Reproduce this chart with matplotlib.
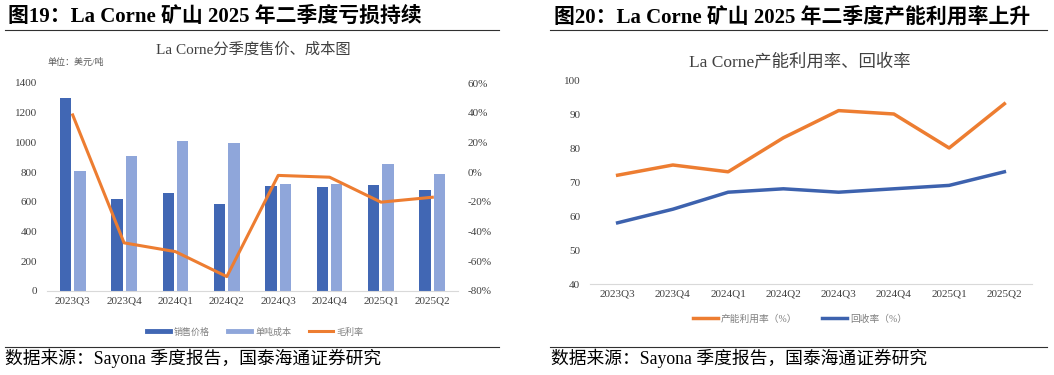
import numpy as np
import matplotlib
matplotlib.use('Agg')
import matplotlib.pyplot as plt
from matplotlib.lines import Line2D
from matplotlib.ticker import FuncFormatter

plt.rcParams['font.family'] = ['Liberation Serif', 'Noto Sans CJK SC', 'DejaVu Sans']

quarters = ['2023Q3', '2023Q4', '2024Q1', '2024Q2', '2024Q3', '2024Q4', '2025Q1', '2025Q2']

# left chart: price / cost (USD/t), gross margin
price = [1300, 620, 660, 585, 706, 700, 712, 677]
cost = [809, 908, 1009, 993, 719, 720, 858, 787]
margin = [0.385, -0.476, -0.535, -0.703, -0.022, -0.034, -0.202, -0.169]

# right chart: utilisation / recovery (%)
utilisation = [72, 75, 73, 83, 91, 90, 80, 93]
recovery = [58, 62, 67, 68, 67, 68, 69, 73]

DARK = '#4167B4'
LIGHT = '#8FA6DA'
ORANGE = '#ED7D31'
BLUE = '#3D62AE'
GRID = '#d9d9d9'
TXT = '#404040'
CJK = ['Liberation Serif', 'Noto Sans CJK SC']

W, H = 1054, 375
fig = plt.figure(figsize=(W / 100, H / 100), dpi=100)


def box(x0, y0, x1, y1):
    # pixel box -> figure fraction
    return [x0 / W, 1 - y1 / H, (x1 - x0) / W, (y1 - y0) / H]


def style(ax):
    for s in ['top', 'left', 'right']:
        ax.spines[s].set_visible(False)
    ax.spines['bottom'].set_color(GRID)
    ax.tick_params(length=0, labelsize=8, colors=TXT, pad=7)


# ---------------- left chart ----------------
x = np.arange(len(quarters))
ax1 = fig.add_axes(box(47, 83, 458, 291))
ax1.bar(x - 0.14, price, width=0.22, color=DARK, label='销售价格')
ax1.bar(x + 0.14, cost, width=0.22, color=LIGHT, label='单吨成本')
ax1.set_xlim(-0.5, len(quarters) - 0.5)
ax1.set_ylim(0, 1400)
ax1.set_yticks(range(0, 1401, 200))
ax1.set_xticks(x)
ax1.set_xticklabels(quarters)
style(ax1)
ax1.tick_params(axis='x', pad=4)

ax2 = ax1.twinx()
ax2.plot(x, margin, color=ORANGE, lw=2.2, label='毛利率')
ax2.set_ylim(-0.8, 0.6)
ax2.set_yticks(np.arange(-0.8, 0.61, 0.2))
ax2.yaxis.set_major_formatter(FuncFormatter(lambda v, p: '%d%%' % round(v * 100)))
style(ax2)
ax2.spines['bottom'].set_visible(False)

h = [Line2D([], [], color=DARK, lw=3.5), Line2D([], [], color=LIGHT, lw=3.5),
     Line2D([], [], color=ORANGE, lw=2.2)]
fig.legend(h, ['销售价格', '单吨成本', '毛利率'], loc='center', bbox_to_anchor=(255 / W, 1 - 332 / H),
           ncol=3, frameon=False, fontsize=6.5, labelcolor='#808080', handlelength=2.6,
           handletextpad=0.4, columnspacing=2.0)

fig.text(253 / W, 1 - 50 / H, 'La Corne分季度售价、成本图', ha='center', va='center',
         fontsize=11, color=TXT, family=CJK)
fig.text(47 / W, 1 - 62 / H, '单位：美元/吨', ha='left', va='center', fontsize=6.5,
         color='#595959', family=CJK)

# ---------------- right chart ----------------
ax3 = fig.add_axes(box(590, 80, 1032, 284))
ax3.plot(x, utilisation, color=ORANGE, lw=2.5)
ax3.plot(x, recovery, color=BLUE, lw=2.5)
ax3.set_xlim(-0.5, len(quarters) - 0.5)
ax3.set_ylim(40, 100)
ax3.set_yticks(range(40, 101, 10))
ax3.set_xticks(x)
ax3.set_xticklabels(quarters)
style(ax3)
ax3.tick_params(axis='x', pad=4)

h2 = [Line2D([], [], color=ORANGE, lw=2.5), Line2D([], [], color=BLUE, lw=2.5)]
fig.legend(h2, ['产能利用率（%）', '回收率（%）'], loc='center', bbox_to_anchor=(800 / W, 1 - 319 / H),
           ncol=2, frameon=False, fontsize=7, labelcolor='#808080', handlelength=2.6,
           handletextpad=0.3, columnspacing=2.5)

fig.text(800 / W, 1 - 62 / H, 'La Corne产能利用率、回收率', ha='center', va='center',
         fontsize=12.5, color=TXT, family=CJK)

# ---------------- titles, rules, sources ----------------
fig.text(8 / W, 1 - 17 / H, '图19：La Corne 矿山 2025 年二季度亏损持续', ha='left', va='center',
         fontsize=15, fontweight='bold', color='black', family=CJK)
fig.text(554 / W, 1 - 17 / H, '图20：La Corne 矿山 2025 年二季度产能利用率上升', ha='left', va='center',
         fontsize=15, fontweight='bold', color='black', family=CJK)

for (a, b) in [(5, 499), (550, 1047)]:
    fig.add_artist(Line2D([a / W, b / W], [1 - 29.5 / H] * 2, color='#303030', lw=0.8))
    fig.add_artist(Line2D([a / W, b / W], [1 - 347 / H] * 2, color='#303030', lw=0.8))

fig.text(5 / W, 1 - 358 / H, '数据来源：Sayona 季度报告，国泰海通证券研究', ha='left', va='center',
         fontsize=12.8, color='black', family=CJK)
fig.text(551 / W, 1 - 358 / H, '数据来源：Sayona 季度报告，国泰海通证券研究', ha='left', va='center',
         fontsize=12.8, color='black', family=CJK)

fig.savefig('out.png', dpi=100)
